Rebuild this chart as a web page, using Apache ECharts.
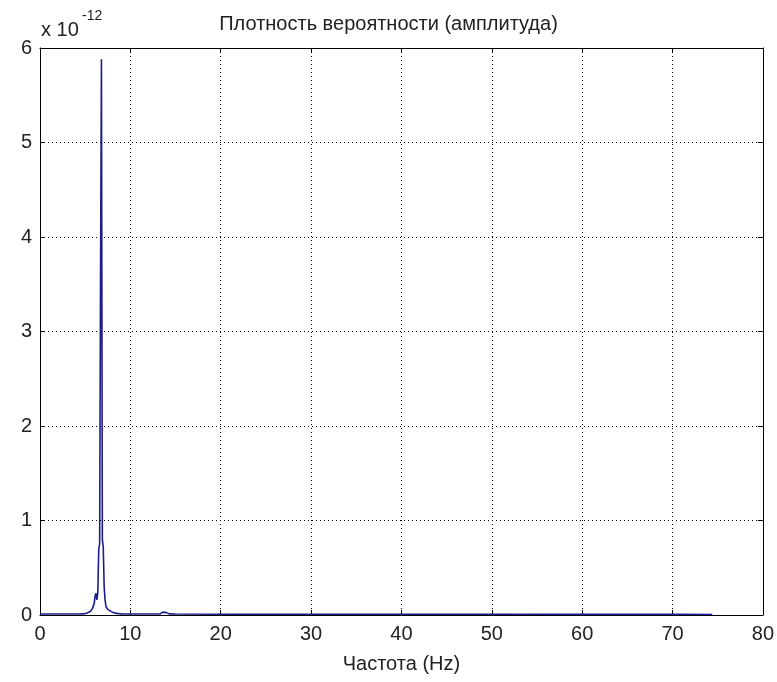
<!DOCTYPE html>
<html>
<head>
<meta charset="utf-8">
<script src="https://cdn.jsdelivr.net/npm/echarts@6/dist/echarts.min.js"></script>
<style>
  html, body { margin: 0; padding: 0; background: #fff; }
  #chart { width: 777px; height: 682px; }
</style>
</head>
<body>
<div id="chart"></div>
<script>
// частота, Гц
const freq = [0, 1, 2, 3, 4, 4.5, 5, 5.3, 5.6, 5.8, 6.0, 6.1, 6.2, 6.3, 6.4, 6.5, 6.6, 6.7, 6.8, 6.9,
  7.0, 7.1, 7.2, 7.3, 7.5, 7.7, 8.0, 8.3, 8.7, 9.2, 10, 12, 13.3, 13.6, 13.8, 14.0, 14.3, 15,
  20, 30, 40, 50, 60, 70, 74.4];
// амплитуда, x 1e-12
const amp = [0.01, 0.01, 0.01, 0.01, 0.01, 0.012, 0.015, 0.025, 0.04, 0.07, 0.12, 0.2, 0.23, 0.16, 0.24,
  0.7, 0.75, 3.6, 5.88, 0.8, 0.72, 0.3, 0.16, 0.09, 0.06, 0.04, 0.03, 0.02, 0.015, 0.01,
  0.01, 0.01, 0.012, 0.03, 0.045, 0.025, 0.012, 0.01, 0.008, 0.008, 0.008, 0.008, 0.007, 0.007, 0.006];
const xTicks = [0, 10, 20, 30, 40, 50, 60, 70, 80];
const yTicks = [0, 1, 2, 3, 4, 5, 6];

const chart = echarts.init(document.getElementById('chart'));
const font = '"Liberation Sans", Arial, sans-serif';
const labelStyle = { color: '#222', fontSize: 20, fontFamily: font };
const dotted = { color: '#000', width: 1, type: [1, 3] };
const frameLine = { show: true, onZero: false, lineStyle: { color: '#000', width: 1 } };
const tick = { show: true, inside: true, length: 5, lineStyle: { color: '#000' } };

chart.setOption({
  animation: false,
  backgroundColor: '#fff',
  title: {
    text: 'Плотность вероятности (амплитуда)',
    left: 'center',
    top: 9,
    textStyle: { color: '#222', fontSize: 20, fontWeight: 'normal', fontFamily: font }
  },
  graphic: [{
    type: 'text',
    left: 41,
    top: 20,
    style: {
      text: 'x 10',
      fill: '#222',
      font: '20px ' + font
    }
  }, {
    type: 'text',
    left: 82,
    top: 9,
    style: {
      text: '-12',
      fill: '#222',
      font: '14px ' + font
    }
  }],
  grid: { left: 40, right: 14, top: 48, bottom: 67 },
  xAxis: [{
    type: 'value', min: 0, max: 80, interval: 10,
    name: 'Частота (Hz)', nameLocation: 'middle', nameGap: 39,
    nameTextStyle: { color: '#222', fontSize: 20, fontFamily: font },
    axisLine: frameLine,
    axisTick: tick,
    axisLabel: Object.assign({ margin: 9, formatter: v => xTicks.includes(v) ? String(v) : '' }, labelStyle),
    splitLine: { show: true, lineStyle: dotted }
  }, {
    type: 'value', min: 0, max: 80, interval: 10, position: 'top',
    axisLine: frameLine, axisTick: tick,
    axisLabel: { show: false }, splitLine: { show: false }
  }],
  yAxis: [{
    type: 'value', min: 0, max: 6, interval: 1,
    axisLine: frameLine,
    axisTick: tick,
    axisLabel: Object.assign({ margin: 8, formatter: v => yTicks.includes(v) ? String(v) : '' }, labelStyle),
    splitLine: { show: true, lineStyle: dotted }
  }, {
    type: 'value', min: 0, max: 6, interval: 1, position: 'right',
    axisLine: frameLine, axisTick: tick,
    axisLabel: { show: false }, splitLine: { show: false }
  }],
  series: [{
    type: 'line',
    data: freq.map((f, i) => [f, amp[i]]),
    showSymbol: false,
    symbol: 'none',
    lineStyle: { color: '#1c1c8a', width: 1.6 },
    z: 5
  }]
});
</script>
</body>
</html>
